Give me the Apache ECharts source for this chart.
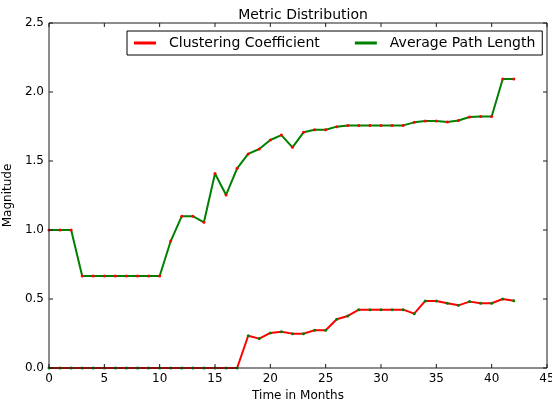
<!DOCTYPE html>
<html>
<head>
<meta charset="utf-8">
<script src="https://cdn.jsdelivr.net/npm/echarts@6/dist/echarts.min.js"></script>
<style>
  html, body { margin: 0; padding: 0; background: #fff; }
  #chart { width: 552px; height: 401px; }
</style>
</head>
<body>
<div id="chart"></div>
<script>
// Month index 0..42
const months = Array.from({ length: 43 }, (_, i) => i);

const clusteringCoefficient = [
  0, 0, 0, 0, 0, 0, 0, 0, 0, 0,
  0, 0, 0, 0, 0, 0, 0, 0, 0.234, 0.213,
  0.254, 0.263, 0.249, 0.249, 0.273, 0.273, 0.353, 0.377, 0.423, 0.423,
  0.423, 0.423, 0.423, 0.394, 0.486, 0.486, 0.469, 0.454, 0.481, 0.469,
  0.469, 0.500, 0.488
];

const averagePathLength = [
  1.0, 1.0, 1.0, 0.667, 0.667, 0.667, 0.667, 0.667, 0.667, 0.667,
  0.667, 0.92, 1.10, 1.10, 1.056, 1.41, 1.254, 1.447, 1.551, 1.587,
  1.652, 1.688, 1.599, 1.708, 1.727, 1.727, 1.749, 1.758, 1.758, 1.758,
  1.758, 1.758, 1.758, 1.780, 1.790, 1.790, 1.783, 1.794, 1.819, 1.823,
  1.823, 2.094, 2.094
];

const xTicks = [0, 5, 10, 15, 20, 25, 30, 35, 40, 45];
const yTicks = [0, 0.5, 1.0, 1.5, 2.0, 2.5];

const RED = '#ff0000';
const GREEN = '#008000';
const FRAME = '#1a1a1a';
const FONT = 'DejaVu Sans';
const TICK_LEN = 4;

const pair = (xs, ys) => xs.map((x, i) => [x, ys[i]]);

// Box around the plot with inward ticks on all four sides,
// placed through the axes' own scales.
function renderFrame(params, api) {
  const cs = params.coordSys;
  const left = cs.x, top = cs.y;
  const right = cs.x + cs.width, bottom = cs.y + cs.height;
  const style = { stroke: FRAME, lineWidth: 1, fill: null };
  const children = [
    { type: 'rect', shape: { x: left, y: top, width: cs.width, height: cs.height }, style }
  ];
  xTicks.forEach(t => {
    const px = api.coord([t, 0])[0];
    children.push({ type: 'line', shape: { x1: px, y1: bottom, x2: px, y2: bottom - TICK_LEN }, style });
    children.push({ type: 'line', shape: { x1: px, y1: top, x2: px, y2: top + TICK_LEN }, style });
  });
  yTicks.forEach(t => {
    const py = api.coord([0, t])[1];
    children.push({ type: 'line', shape: { x1: left, y1: py, x2: left + TICK_LEN, y2: py }, style });
    children.push({ type: 'line', shape: { x1: right, y1: py, x2: right - TICK_LEN, y2: py }, style });
  });
  return { type: 'group', children };
}

const chart = echarts.init(document.getElementById('chart'));
chart.setOption({
  animation: false,
  backgroundColor: '#ffffff',
  title: {
    text: 'Metric Distribution',
    left: 298, textAlign: 'center', top: 3,
    textStyle: { fontFamily: FONT, fontSize: 14, fontWeight: 'normal', color: '#000' }
  },
  legend: {
    left: 127, top: 31,
    padding: [5, 7, 5, 7],
    borderColor: '#000', borderWidth: 1,
    itemWidth: 22, itemHeight: 3, itemGap: 35,
    textStyle: { fontFamily: FONT, fontSize: 14, color: '#000', padding: [0, 0, 0, 8] },
    data: [
      { name: 'Clustering Coefficient', icon: 'rect', itemStyle: { color: RED } },
      { name: 'Average Path Length', icon: 'rect', itemStyle: { color: GREEN } }
    ]
  },
  grid: { left: 49, right: 5, top: 23, bottom: 33, outerBoundsMode: 'none' },
  xAxis: {
    type: 'value', min: 0, max: 45, interval: 5,
    name: 'Time in Months', nameLocation: 'middle', nameGap: 1,
    nameTextStyle: { fontFamily: FONT, fontSize: 12, color: '#000' },
    axisLine: { show: false }, axisTick: { show: false }, splitLine: { show: false },
    axisLabel: { fontFamily: FONT, fontSize: 12, color: '#000', margin: 5,
      formatter: v => String(v) }
  },
  yAxis: {
    type: 'value', min: 0, max: 2.5, interval: 0.5,
    name: 'Magnitude', nameLocation: 'middle', nameGap: 3,
    nameTextStyle: { fontFamily: FONT, fontSize: 12, color: '#000' },
    axisLine: { show: false }, axisTick: { show: false }, splitLine: { show: false },
    axisLabel: { fontFamily: FONT, fontSize: 12, color: '#000', margin: 5,
      formatter: v => v.toFixed(1) }
  },
  series: [
    {
      name: 'Clustering Coefficient', type: 'line',
      data: pair(months, clusteringCoefficient),
      symbol: 'circle', symbolSize: 3, showSymbol: true,
      lineStyle: { color: RED, width: 2 },
      itemStyle: { color: GREEN, borderWidth: 0 },
      z: 3
    },
    {
      name: 'Average Path Length', type: 'line',
      data: pair(months, averagePathLength),
      symbol: 'circle', symbolSize: 3, showSymbol: true,
      lineStyle: { color: GREEN, width: 2 },
      itemStyle: { color: RED, borderWidth: 0 },
      z: 4
    },
    {
      name: 'frame', type: 'custom', renderItem: renderFrame,
      data: [[0, 0]], silent: true, clip: false, z: 5
    }
  ]
});
</script>
</body>
</html>
